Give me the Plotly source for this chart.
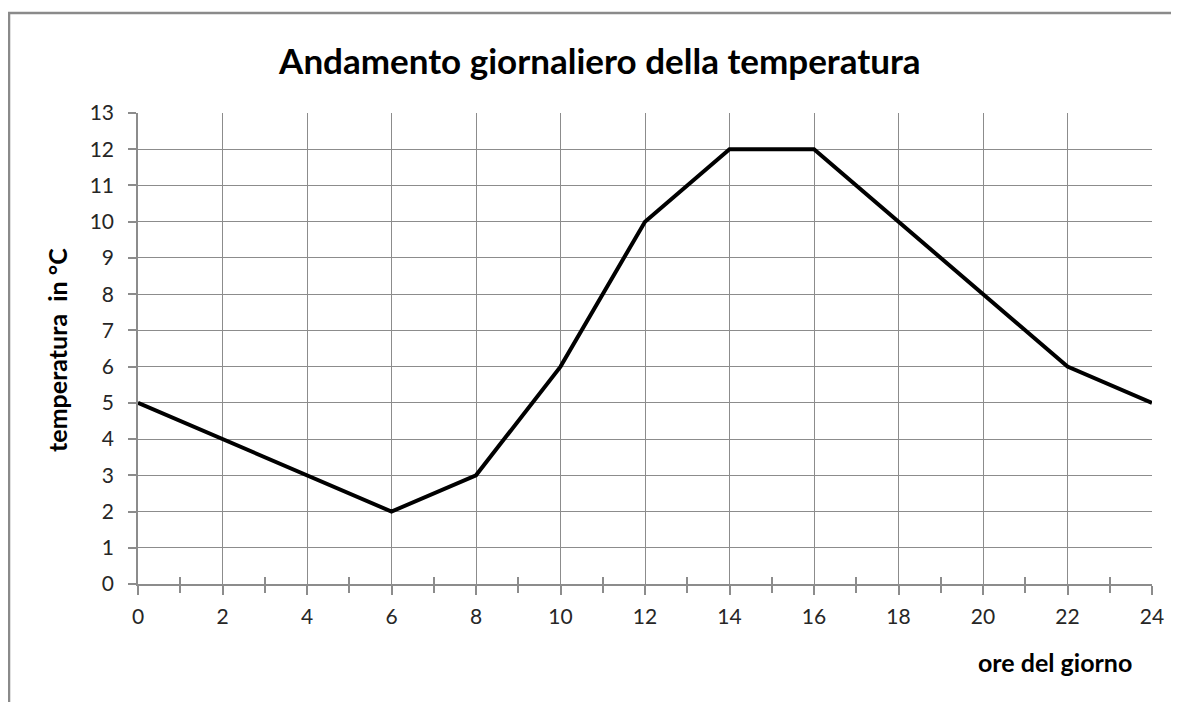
import plotly.graph_objects as go

hours = [0, 2, 4, 6, 8, 10, 12, 14, 16, 18, 20, 22, 24]
temperature = [5, 4, 3, 2, 3, 6, 10, 12, 12, 10, 8, 6, 5]

title_text = "Andamento giornaliero della temperatura"
x_title = "ore del giorno"
y_title = "temperatura  in °C"

FONT = "Lato"
GRID = "#8c8c8c"

fig = go.Figure()
fig.add_trace(go.Scatter(x=hours, y=temperature, mode="lines",
                         line=dict(color="black", width=4), showlegend=False,
                         hoverinfo="x+y"))
# invisible trace on overlay axis to activate it (for crossing minor ticks)
fig.add_trace(go.Scatter(x=hours, y=temperature, mode="lines", xaxis="x2",
                         line=dict(color="rgba(0,0,0,0)", width=0), showlegend=False,
                         hoverinfo="skip"))

fig.update_layout(
    width=1179, height=702,
    margin=dict(l=130, r=35, t=105, b=126),
    paper_bgcolor="white", plot_bgcolor="white",
    font=dict(family=FONT, size=21, color="#262626"),
    title=dict(text="<b>" + title_text + "</b>", x=0.502, xanchor="center",
               y=0.923, yanchor="middle", font=dict(family=FONT, size=35, color="black")),
    xaxis=dict(range=[0, 24], tickmode="linear", tick0=0, dtick=2,
               showgrid=True, gridcolor=GRID, gridwidth=1,
               showline=True, linecolor=GRID, linewidth=1.5,
               ticks="outside", ticklen=9, tickcolor=GRID, tickwidth=1.5,
               ticklabelstandoff=4,
               minor=dict(ticks="outside", ticklen=7, tickcolor=GRID, tickwidth=1.5,
                          dtick=1, tick0=0, showgrid=False),
               zeroline=False, fixedrange=True),
    xaxis2=dict(range=[0, 24], overlaying="x", side="bottom", anchor="y",
                tickmode="linear", tick0=1, dtick=2, showticklabels=False,
                ticks="inside", ticklen=7, tickcolor=GRID, tickwidth=1.5,
                showgrid=False, showline=False, zeroline=False),
    yaxis=dict(range=[0, 13], tickmode="linear", tick0=0, dtick=1,
               showgrid=True, gridcolor=GRID, gridwidth=1,
               showline=True, linecolor=GRID, linewidth=1.5,
               ticks="outside", ticklen=8, tickcolor=GRID, tickwidth=1.5,
               ticklabelstandoff=10,
               zeroline=False),
    annotations=[
        dict(text="<b>" + x_title + "</b>", xref="paper", yref="paper",
             x=0.904, y=-0.1656, xanchor="center", yanchor="middle",
             showarrow=False, font=dict(family=FONT, size=25, color="black")),
        dict(text="<b>" + y_title + "</b>", xref="paper", yref="paper",
             x=-0.0799, y=0.497, xanchor="center", yanchor="middle", textangle=-90,
             showarrow=False, font=dict(family=FONT, size=25, color="black")),
    ],
    shapes=[dict(type="rect", xref="paper", yref="paper",
                 x0=-0.1272, x1=1.04, y0=-0.28, y1=1.2123,
                 line=dict(color="#8a8a8a", width=2.5), layer="below")],
)

fig.write_html("out.html")
